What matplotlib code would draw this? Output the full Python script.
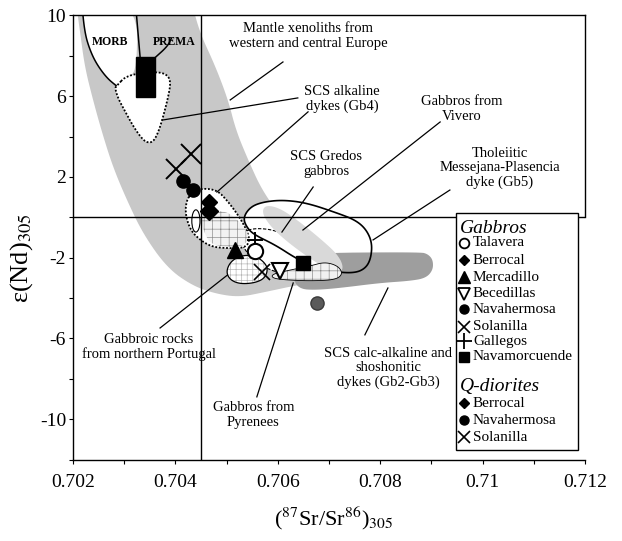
import matplotlib
matplotlib.use("Agg")
import matplotlib.pyplot as plt
import numpy as np
from matplotlib.patches import Polygon, Rectangle, Ellipse

plt.rcParams['font.family'] = ['Liberation Serif', 'DejaVu Serif']
plt.rcParams['mathtext.fontset'] = 'stix'
plt.rcParams['hatch.linewidth'] = 0.5

# ---------------- axis ticks ----------------
sr_major = [0.702, 0.704, 0.706, 0.708, 0.710, 0.712]
sr_major_labels = ['0.702', '0.704', '0.706', '0.708', '0.71', '0.712']
sr_minor = [0.703, 0.705, 0.707, 0.709, 0.711]
nd_major = [10, 6, 2, -2, -6, -10]
nd_major_labels = ['10', '6', '2', '-2', '-6', '-10']
nd_minor = [8, 4, 0, -4, -8, -12]
bse_sr = 0.7045   # bulk silicate earth reference
bse_nd = 0.0

# ---------------- reference fields ----------------
mantle_sr = [0.70206, 0.70432, 0.70448, 0.70477, 0.70503, 0.70518, 0.70542,
             0.70569, 0.70604, 0.70643, 0.70692, 0.70721, 0.70712, 0.70643,
             0.70575, 0.70526, 0.70481, 0.70434, 0.70384, 0.70337, 0.70305,
             0.70278, 0.70257, 0.70239, 0.70223, 0.70214]
mantle_nd = [10.6, 10.6, 9.12, 7.54, 5.81, 4.32, 2.84, 1.35, 0.11, -1.15,
             -2.19, -2.59, -3.08, -3.33, -3.70, -3.95, -3.80, -3.40, -2.51,
             -0.83, 0.86, 2.49, 4.17, 5.81, 7.44, 9.12]

morb_sr = [0.70217, 0.70223, 0.70233, 0.70246, 0.70266, 0.70285, 0.70305,
           0.70325, 0.70325]
morb_nd = [10.6, 9.12, 8.28, 7.59, 6.90, 6.50, 6.94, 7.24, 10.6]
morb_edge_sr = [0.70324, 0.70331]
morb_edge_nd = [10.0, 7.92]
prema_sr = [0.70360, 0.70384, 0.70392]
prema_nd = [7.90, 8.45, 8.85]
prema_box_sr = [0.70323, 0.70360]
prema_box_nd = [5.97, 7.92]

gb4_sr = [0.70285, 0.70305, 0.70360, 0.70383, 0.70391, 0.70386, 0.70376,
          0.70367, 0.70357, 0.70345, 0.70334, 0.70318, 0.70302, 0.70288,
          0.70282]
gb4_nd = [6.50, 7.04, 7.21, 7.09, 6.71, 5.97, 4.98, 4.24, 3.74, 3.69, 3.91,
          4.49, 5.23, 5.89, 6.39]

gb4b_sr = [0.70422, 0.70432, 0.70451, 0.70481, 0.70500, 0.70520, 0.70536,
           0.70546, 0.70536, 0.70500, 0.70471, 0.70448, 0.70429, 0.70419]
gb4b_nd = [0.86, 1.19, 1.44, 1.35, 0.86, 0.20, -0.47, -1.12, -1.52, -1.53,
           -1.46, -1.12, -0.63, 0.20]
gb4b_brick_sr = [0.70448, 0.70497, 0.70526, 0.70546, 0.70532, 0.70497,
                 0.70468, 0.70454]
gb4b_brick_nd = [0.26, 0.36, -0.23, -0.93, -1.47, -1.47, -1.32, -0.63]

messejana_sr = [0.70540, 0.70532, 0.70546, 0.70571, 0.70610, 0.70657,
                0.70716, 0.70751, 0.70772, 0.70784, 0.70782, 0.70772,
                0.70751, 0.70712, 0.70673, 0.70634, 0.70595, 0.70555]
messejana_nd = [-0.53, -0.03, 0.51, 0.76, 0.86, 0.71, 0.21, -0.13, -0.58,
                -1.24, -2.01, -2.51, -2.76, -2.71, -2.51, -2.01, -1.37, -0.88]

calcalk_sr = [0.70643, 0.70878, 0.70893, 0.70903, 0.70903, 0.70889, 0.70858,
              0.70800, 0.70721, 0.70673, 0.70643, 0.70630, 0.70630]
calcalk_nd = [-1.77, -1.72, -1.82, -2.11, -2.61, -3.01, -3.15, -3.25, -3.50,
              -3.60, -3.55, -3.10, -2.19]

gredos_sr = [0.70532, 0.70555, 0.70595, 0.70634, 0.70673, 0.70706, 0.70721,
             0.70712, 0.70682, 0.70624, 0.70585, 0.70555, 0.70536, 0.70526]
gredos_nd = [-0.73, -0.53, -0.63, -1.12, -1.72, -2.21, -2.61, -2.91, -3.01,
             -2.91, -2.61, -2.21, -1.62, -1.12]

vivero_sr = [0.70575, 0.70604, 0.70643, 0.70686, 0.70718, 0.70729, 0.70718,
             0.70692, 0.70653, 0.70614, 0.70585, 0.70569]
vivero_nd = [0.61, 0.46, -0.23, -1.12, -1.87, -2.51, -2.81, -2.51, -1.87,
             -1.12, -0.43, 0.21]

pyrenees_sr = [0.70589, 0.70624, 0.70663, 0.70692, 0.70718, 0.70727, 0.70712,
               0.70663, 0.70614, 0.70589]
pyrenees_nd = [-2.81, -2.61, -2.41, -2.21, -2.41, -2.81, -3.10, -3.15, -3.10,
               -3.01]

portugal_sr = [0.70507, 0.70526, 0.70550, 0.70569, 0.70581, 0.70575, 0.70555,
               0.70526, 0.70507, 0.70499]
portugal_nd = [-2.21, -1.91, -1.87, -2.11, -2.51, -3.01, -3.25, -3.30, -3.10,
               -2.71]

# ---------------- samples ----------------
talavera_sr, talavera_nd = [0.70555], [-1.67]
berrocal_sr, berrocal_nd = [0.70466], [0.31]
mercadillo_sr, mercadillo_nd = [0.70517], [-1.62]
becedillas_sr, becedillas_nd = [0.70604], [-2.64]
navahermosa_sr, navahermosa_nd = [0.70415, 0.70434], [1.80, 1.35]
solanilla_sr, solanilla_nd = [0.70430, 0.70401], [3.13, 2.39]
gallegos_sr, gallegos_nd = [0.70555], [-1.12]
navamorcuende_sr, navamorcuende_nd = [0.70649], [-2.26]
qd_berrocal_sr, qd_berrocal_nd = [0.70466], [0.76]
qd_navahermosa_sr, qd_navahermosa_nd = [0.70677], [-4.24]
qd_solanilla_sr, qd_solanilla_nd = [0.70569], [-2.71]

# ---------------- labels of the fields ----------------
field_labels = [
    ("Mantle xenoliths from\nwestern and central Europe", 0.70659, 8.98),
    ("SCS alkaline\ndykes (Gb4)", 0.70725, 5.85),
    ("Gabbros from\nVivero", 0.70960, 5.36),
    ("SCS Gredos\ngabbros", 0.70694, 2.64),
    ("Tholeiitic\nMessejana-Plasencia\ndyke (Gb5)", 0.71034, 2.44),
    ("SCS calc-alkaline and\nshoshonitic\ndykes (Gb2-Gb3)", 0.70815, -7.46),
    ("Gabbroic rocks\nfrom northern Portugal", 0.70348, -6.41),
    ("Gabbros from\nPyrenees", 0.70552, -9.78),
]
leaders_sr = [(0.70507, 0.70610), (0.70376, 0.70639), (0.70481, 0.70659),
              (0.70608, 0.70669), (0.70649, 0.70917), (0.70786, 0.70936),
              (0.70815, 0.70770), (0.70501, 0.70370), (0.70630, 0.70559)]
leaders_nd = [(5.81, 7.69), (4.82, 5.91), (1.25, 5.22), (-0.73, 1.50),
              (-0.63, 4.72), (-1.12, 1.35), (-3.50, -5.82), (-2.87, -5.48),
              (-3.25, -8.89)]

gabbro_names = ['Talavera', 'Berrocal', 'Mercadillo', 'Becedillas',
                'Navahermosa', 'Solanilla', 'Gallegos', 'Navamorcuende']
qdiorite_names = ['Berrocal', 'Navahermosa', 'Solanilla']


def chaikin(xs, ys, n=3, closed=True):
    pts = np.column_stack([xs, ys]).astype(float)
    for _ in range(n):
        if closed:
            q = np.roll(pts, -1, axis=0)
            new = np.empty((2 * len(pts), 2))
            new[0::2] = 0.75 * pts + 0.25 * q
            new[1::2] = 0.25 * pts + 0.75 * q
        else:
            p, q = pts[:-1], pts[1:]
            mid = np.empty((2 * len(p), 2))
            mid[0::2] = 0.75 * p + 0.25 * q
            mid[1::2] = 0.25 * p + 0.75 * q
            new = np.vstack([pts[:1], mid, pts[-1:]])
        pts = new
    return pts


def field(ax, xs, ys, z, fc='white', ec='none', lw=1.0, ls='-', hatch=None,
          hatch_color='#555555', smooth=True):
    pts = chaikin(xs, ys) if smooth else np.column_stack([xs, ys])
    ax.add_patch(Polygon(pts, closed=True, fc=fc, ec='none', zorder=z))
    if hatch:
        ax.add_patch(Polygon(pts, closed=True, fc='none', ec=hatch_color,
                             lw=0, hatch=hatch, zorder=z + 0.01))
    if ec != 'none':
        ax.add_patch(Polygon(pts, closed=True, fc='none', ec=ec, lw=lw,
                             ls=ls, zorder=z + 0.02))
    return pts


fig = plt.figure(figsize=(6.22, 5.41), dpi=100)
ax = fig.add_axes([0.1174, 0.1503, 0.8232, 0.8214])
ax.set_xlim(0.702, 0.712)
ax.set_ylim(-12, 10)

# mantle array and MORB / PREMA
field(ax, mantle_sr, mantle_nd, 1, fc='#c8c8c8')
field(ax, morb_sr, morb_nd, 2, fc='white')
c = chaikin(morb_sr[:6], morb_nd[:6], closed=False)
ax.plot(c[:, 0], c[:, 1], color='black', lw=1.1, zorder=2.1)
ax.plot(morb_edge_sr, morb_edge_nd, color='black', lw=1.1, zorder=2.1)
c = chaikin(prema_sr, prema_nd, closed=False)
ax.plot(c[:, 0], c[:, 1], color='black', lw=1.1, zorder=2.1)

# SCS alkaline dykes (upper)
field(ax, gb4_sr, gb4_nd, 3, fc='white', ec='black', lw=1.3, ls=(0, (1, 1)))
ax.add_patch(Rectangle((prema_box_sr[0], prema_box_nd[0]),
                       prema_box_sr[1] - prema_box_sr[0],
                       prema_box_nd[1] - prema_box_nd[0],
                       fc='black', ec='black', zorder=4))

# central cluster of fields
mes = field(ax, messejana_sr, messejana_nd, 3, fc='white')
field(ax, calcalk_sr, calcalk_nd, 3.2, fc='#9e9e9e')
field(ax, gredos_sr, gredos_nd, 3.3, fc='white', ec='black', lw=0.8,
      ls=(0, (3, 1.5)))
ax.add_patch(Polygon(mes, closed=True, fc='none', ec='black', lw=1.2,
                     zorder=3.35))
field(ax, vivero_sr, vivero_nd, 3.4, fc='#d9d9d9')
field(ax, pyrenees_sr, pyrenees_nd, 3.5, fc='#f2f2f2', hatch='++',
      hatch_color='#909090', ec='black', lw=0.6)
field(ax, portugal_sr, portugal_nd, 3.6, fc='white', hatch='+++',
      hatch_color='#b8b8b8', ec='black', lw=0.9)

# SCS alkaline dykes (lower)
field(ax, gb4b_sr, gb4b_nd, 3.7, fc='white', ec='black', lw=1.3,
      ls=(0, (1, 1)))
field(ax, gb4b_brick_sr, gb4b_brick_nd, 3.75, fc='#f2f2f2', hatch='++',
      hatch_color='#909090')
ax.add_patch(Ellipse((0.70440, -0.18), 0.00016, 1.1, fc='white', ec='black',
                     lw=0.8, zorder=3.8))

# reference lines
ax.axvline(bse_sr, color='black', lw=1.0, zorder=5)
ax.axhline(bse_nd, color='black', lw=1.0, zorder=5)

# leader lines and field names
for (x0, x1), (y0, y1) in zip(leaders_sr, leaders_nd):
    ax.plot([x0, x1], [y0, y1], color='black', lw=0.9, zorder=5)
for s, x, y in field_labels:
    ax.text(x, y, s, ha='center', va='center', fontsize=10.5,
            linespacing=1.15, zorder=6)
ax.text(0.70272, 8.68, 'MORB', ha='center', va='center', fontsize=8.5,
        fontweight='bold', zorder=6)
ax.text(0.70397, 8.68, 'PREMA', ha='center', va='center', fontsize=8.5,
        fontweight='bold', zorder=6)

# samples
k = dict(ls='none', zorder=6)
ax.plot(solanilla_sr, solanilla_nd, marker='x', ms=14, mew=1.4, color='black', **k)
ax.plot(navahermosa_sr, navahermosa_nd, marker='o', ms=9.5, color='black', **k)
ax.plot(qd_berrocal_sr, qd_berrocal_nd, marker='D', ms=8, color='black', **k)
ax.plot(berrocal_sr, berrocal_nd, marker='D', ms=9, color='black', **k)
ax.plot(mercadillo_sr, mercadillo_nd, marker='^', ms=11, color='black', **k)
ax.plot(gallegos_sr, gallegos_nd, marker='+', ms=12, mew=1.4, color='black', **k)
ax.plot(talavera_sr, talavera_nd, marker='o', ms=11, mfc='white',
        mec='black', mew=1.5, **k)
ax.plot(qd_solanilla_sr, qd_solanilla_nd, marker='x', ms=11, mew=1.2,
        color='black', **k)
ax.plot(becedillas_sr, becedillas_nd, marker='v', ms=11, mfc='white',
        mec='black', mew=1.5, **k)
ax.plot(navamorcuende_sr, navamorcuende_nd, marker='s', ms=10,
        color='black', **k)
ax.plot(qd_navahermosa_sr, qd_navahermosa_nd, marker='o', ms=9.5,
        mfc='#5a5a5a', mec='#3a3a3a', **k)

# axes styling
for side in ['left', 'bottom', 'top', 'right']:
    ax.spines[side].set_linewidth(1.0)
ax.spines['right'].set_bounds(0, 10)
ax.set_xticks(sr_major)
ax.set_xticklabels(sr_major_labels)
ax.set_xticks(sr_minor, minor=True)
ax.set_yticks(nd_major)
ax.set_yticklabels(nd_major_labels)
ax.set_yticks(nd_minor, minor=True)
ax.tick_params(axis='both', which='both', direction='out', length=3,
               width=0.8, labelsize=14)
ax.tick_params(axis='x', which='major', pad=7)
ax.tick_params(axis='y', which='major', pad=2)
ax.tick_params(top=False, right=False, which='both')

fig.text(22 / 622, 1 - 258 / 541, 'ε(Nd)$_{305}$', rotation=90,
         ha='center', va='center', fontsize=19)
fig.text(334 / 622, 1 - 518 / 541, '($^{87}$Sr/Sr$^{86}$)$_{305}$',
         ha='center', va='center', fontsize=16)

# legend panel
ax.add_patch(Rectangle((0.748, 0.0218), 0.238, 0.533, transform=ax.transAxes,
                       fc='white', ec='black', lw=1.0, zorder=7,
                       clip_on=False))
mx, tx = 0.764, 0.781
ax.text(0.756, 0.521, 'Gabbros', transform=ax.transAxes, fontsize=14,
        style='italic', va='center', ha='left', zorder=8)
g_rows = [0.488, 0.449, 0.410, 0.373, 0.338, 0.299, 0.266, 0.232]
g_marks = [dict(marker='o', ms=7, mfc='white', mec='black', mew=1.3),
           dict(marker='D', ms=5.5, color='black'),
           dict(marker='^', ms=8, color='black'),
           dict(marker='v', ms=8, mfc='white', mec='black', mew=1.3),
           dict(marker='o', ms=6.5, color='black'),
           dict(marker='x', ms=9, mew=1.2, color='black'),
           dict(marker='+', ms=11, mew=1.3, color='black'),
           dict(marker='s', ms=6.5, color='black')]
for name, yy, mk in zip(gabbro_names, g_rows, g_marks):
    ax.plot([mx], [yy], transform=ax.transAxes, clip_on=False, zorder=8, **mk)
    ax.text(tx, yy, name, transform=ax.transAxes, fontsize=11, va='center',
            ha='left', zorder=8)
ax.text(0.756, 0.164, 'Q-diorites', transform=ax.transAxes, fontsize=14,
        style='italic', va='center', ha='left', zorder=8)
q_rows = [0.127, 0.0893, 0.0504]
q_marks = [dict(marker='D', ms=5, color='black'),
           dict(marker='o', ms=6.5, color='black'),
           dict(marker='x', ms=9, mew=1.2, color='black')]
for name, yy, mk in zip(qdiorite_names, q_rows, q_marks):
    ax.plot([mx], [yy], transform=ax.transAxes, clip_on=False, zorder=8, **mk)
    ax.text(tx, yy, name, transform=ax.transAxes, fontsize=11, va='center',
            ha='left', zorder=8)

fig.savefig('out.png', dpi=100)
